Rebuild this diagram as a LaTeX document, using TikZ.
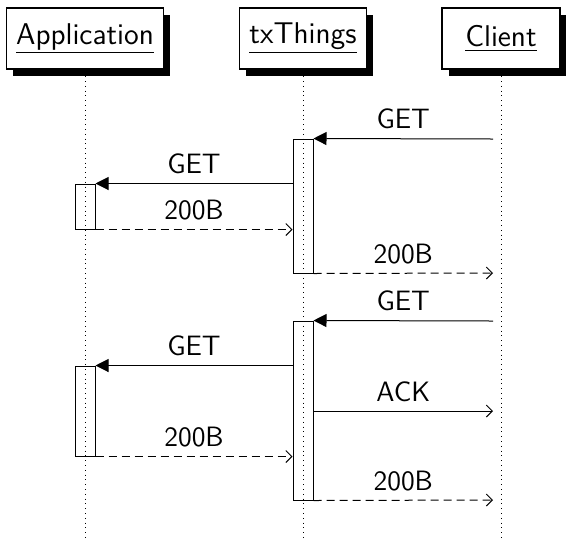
\documentclass[tikz,border=0pt]{standalone}
\usepackage{fontspec}
\usetikzlibrary{arrows.meta,shadows}
\begin{document}
\begin{tikzpicture}[x=0.5pt,y=-0.5pt,
  font=\sffamily\fontsize{14}{17}\selectfont,
  object/.style={draw,line width=0.6pt,fill=white,minimum height=30.5pt,inner xsep=5pt,
    font=\sffamily\fontsize{15}{18}\selectfont,
    drop shadow={shadow xshift=3.3pt,shadow yshift=-3.3pt,opacity=1,fill=black}},
  actbar/.style={draw,line width=0.5pt,minimum width=10pt,inner sep=0pt},
  call/.style={-{Triangle[length=6.5pt,width=6.5pt]},line width=0.5pt},
  reply/.style={-{Straight Barb[length=3pt,width=6pt]},line width=0.5pt},
  back/.style={reply,dash pattern=on 4pt off 2.5pt},
  lbl/.style={above,inner sep=4.5pt}]
\useasboundingbox (0,0) rectangle (566,542);
% objects
\node[object,minimum width=78.5pt] (app) at (85,38.5) {\underline{Application}};
\node[object,minimum width=63pt] (tx) at (303,38.5) {\underline{txThings}};
\node[object,minimum width=59pt] (cl) at (501,38.5) {\underline{Client}};
% lifelines
\foreach \o in {app,tx,cl}
\draw[dotted] ([yshift=-3.3pt]\o.south) -- (\o.south |- 0,540);
% activations
\node[actbar,minimum height=67pt] (txa) at (303,206) {};
\node[actbar,minimum height=22.5pt] (appa) at (85,206.5) {};
\node[actbar,minimum height=89.5pt] (txb) at (303,410.5) {};
\node[actbar,minimum height=45pt] (appb) at (85,411) {};
\coordinate (cla) at (493,139);
\coordinate (clb) at (493,273);
\coordinate (clc) at (493,321);
\coordinate (cld) at (493,411);
\coordinate (cle) at (493,500);
% first request
\draw[call] (cla) -- node[lbl] {GET} (txa.north east);
\draw[call] (appa.north -| txa.west) -- node[lbl] {GET} (appa.north east);
\draw[back] (appa.south east) -- node[lbl] {200B} (appa.south -| txa.west);
\draw[back] (txa.south east) -- node[lbl] {200B} (clb);
% second request
\draw[call] (clc) -- node[lbl] {GET} (txb.north east);
\draw[call] (appb.north -| txb.west) -- node[lbl] {GET} (appb.north east);
\draw[reply] (txb.east |- cld) -- node[lbl] {ACK} (cld);
\draw[back] (appb.south east) -- node[lbl] {200B} (appb.south -| txb.west);
\draw[back] (txb.south east) -- node[lbl] {200B} (cle);
\end{tikzpicture}
\end{document}
